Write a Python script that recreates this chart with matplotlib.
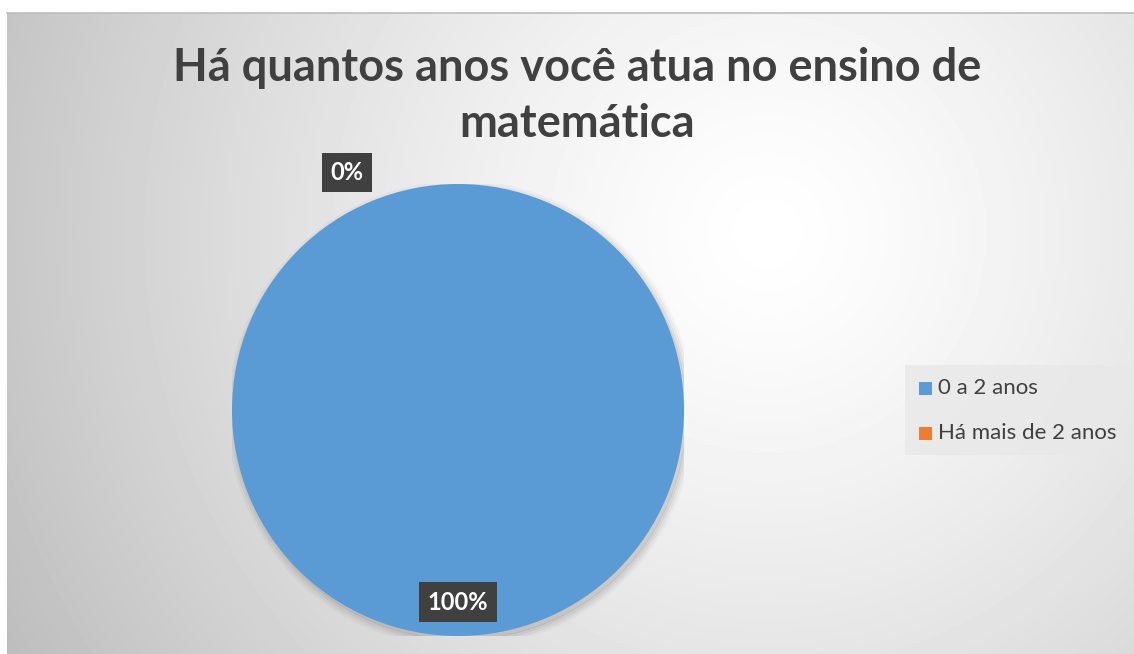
import numpy as np
import matplotlib.pyplot as plt
from matplotlib.patches import Rectangle

plt.rcParams['font.family'] = ['Lato', 'DejaVu Sans']

title_lines = ['Há quantos anos você atua no ensino de', 'matemática']
categories = ['0 a 2 anos', 'Há mais de 2 anos']
values = [100, 0]
colors = ['#5b9bd5', '#ed7d31']

W, H = 1134, 654
fig = plt.figure(figsize=(W / 100, H / 100), dpi=100)

# background panel with a soft radial gradient
bg = fig.add_axes([7 / W, 0, 1 - 7 / W, (H - 13) / H])
yy, xx = np.mgrid[0:H - 13, 0:W - 7]
d = np.hypot(xx - 760, yy - 220) / 820.0
shade = np.clip(1.0 - 0.24 * d ** 1.3, 0, 1)
bg.imshow(shade, cmap='gray', vmin=0, vmax=1, aspect='auto',
          extent=[0, 1, 0, 1], origin='upper')
bg.set_axis_off()
fig.add_artist(plt.Line2D([7 / W, 1], [(H - 13) / H] * 2, color='#bdbdbd',
                          lw=1.2, transform=fig.transFigure))

for i, line in enumerate(title_lines):
    fig.text(577 / W, 1 - (68 + 56 * i) / H, line,
             ha='center', va='center', fontsize=32.5, fontweight='bold', color='#404040')

# pie
ax = fig.add_axes([232 / W, 18 / H, 452 / W, 452 / H])
wedges, _ = ax.pie(values, colors=colors, startangle=90, counterclock=False,
                   radius=1, wedgeprops=dict(linewidth=0))
for k, a in enumerate([0.05, 0.04, 0.03, 0.02]):
    sh = plt.Circle((0.012, -0.018), 1.0 + 0.01 * k, color='black', alpha=a, zorder=0)
    ax.add_patch(sh)
ax.set_xlim(-1, 1)
ax.set_ylim(-1, 1)
ax.set_axis_off()

total = sum(values)
for w, v in zip(wedges, values):
    mid = np.deg2rad((w.theta1 + w.theta2) / 2)
    if v == 0:
        x, y = 1.16 * np.cos(np.deg2rad(115)), 1.16 * np.sin(np.deg2rad(115))
    else:
        x, y = 0.85 * np.cos(mid), 0.85 * np.sin(mid)
    ax.text(x, y, f'{v / total * 100:.0f}%', ha='center', va='center',
            fontsize=17, fontweight='bold', color='white', clip_on=False,
            bbox=dict(boxstyle='square,pad=0.35', fc='#404040', ec='none'))

# legend
fig.add_artist(Rectangle((905 / W, 1 - 455 / H), 221 / W, 90 / H,
                         transform=fig.transFigure, fc='#e8e8e8', ec='none', alpha=0.8))
for i, (lab, c) in enumerate(zip(categories, colors)):
    yc = 388 + i * 45
    fig.add_artist(Rectangle((919 / W, 1 - (yc + 6.5) / H), 13 / W, 13 / H,
                             transform=fig.transFigure, fc=c, ec='none'))
    fig.text(938 / W, 1 - yc / H, lab, ha='left', va='center',
             fontsize=16, color='#404040')

fig.savefig('out.png', dpi=100)
